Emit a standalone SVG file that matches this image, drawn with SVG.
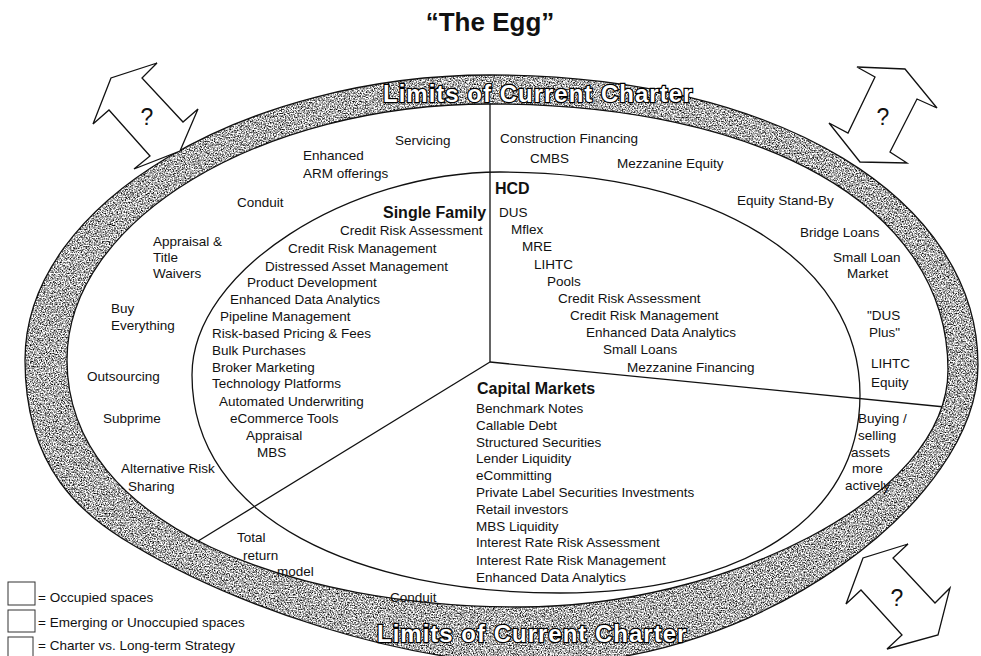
<svg xmlns="http://www.w3.org/2000/svg" width="981" height="656" viewBox="0 0 981 656">
<style>
.t{font-family:"Liberation Sans",Arial,Helvetica,sans-serif;font-size:13.5px;fill:#111}
.b{font-weight:bold;font-size:16px}
.ti{font-family:"Liberation Sans",Arial,Helvetica,sans-serif;font-weight:bold;font-size:26px;fill:#111}
.q{font-family:"Liberation Sans",Arial,Helvetica,sans-serif;font-size:23px;fill:#111}
.lim{font-family:"Liberation Sans",Arial,Helvetica,sans-serif;font-weight:bold;font-size:24px;fill:#fff;stroke:#000;stroke-width:2.4;paint-order:stroke fill;letter-spacing:1px}
.ln{fill:none;stroke:#111;stroke-width:1.3}
.arw{fill:#fff;stroke:#111;stroke-width:1.3;stroke-linejoin:miter}
.box{fill:#fff;stroke:#333;stroke-width:1}
</style>
<defs>
<filter id="speck" x="0" y="0" width="100%" height="100%" color-interpolation-filters="sRGB">
<feTurbulence type="fractalNoise" baseFrequency="0.75" numOctaves="3" seed="7" result="n"/>
<feColorMatrix in="n" type="matrix" values="2.3 0 0 0 -0.47  2.3 0 0 0 -0.47  2.3 0 0 0 -0.47  0 0 0 0 1"/>
</filter>
<clipPath id="ringClip">
<path clip-rule="evenodd" d="M 490,75 C 780,75 978,200 978,365 C 978,500 760,664 540,664 C 400,664 233,605 133,545 C 83,515 25,470 25,360 C 25,200 250,75 490,75 Z M 490,104 C 760,104 948,205 948,370 C 948,500 720,607 520,607 C 300,607 67,530 67,360 C 67,220 260,104 490,104 Z"/>
</clipPath>
</defs>
<rect width="981" height="656" fill="#fff"/>

<text id="title" class="ti" x="490" y="31" text-anchor="middle">“The Egg”</text>

<g id="connectors">
<line class="ln" x1="490" y1="362" x2="490" y2="100"/>
<line class="ln" x1="490" y1="362" x2="955" y2="408"/>
<line class="ln" x1="490" y1="362" x2="190" y2="546"/>
</g>

<g id="yolk">
<path class="ln" d="M 500,172 C 715,172 860,262 860,395 C 860,520 740,593 560,593 C 360,593 192,520 192,375 C 192,270 350,172 500,172 Z"/>
</g>

<g id="ring">
<rect x="0" y="60" width="981" height="596" filter="url(#speck)" clip-path="url(#ringClip)"/>
<path class="ln" d="M 490,75 C 780,75 978,200 978,365 C 978,500 760,664 540,664 C 400,664 233,605 133,545 C 83,515 25,470 25,360 C 25,200 250,75 490,75 Z"/>
<path class="ln" d="M 490,104 C 760,104 948,205 948,370 C 948,500 720,607 520,607 C 300,607 67,530 67,360 C 67,220 260,104 490,104 Z"/>
<text class="lim" x="383" y="102">Limits of Current Charter</text>
<text class="lim" x="377" y="642">Limits of Current Charter</text>
</g>

<g id="arrow-tl">
<polygon class="arw" points="157,63 111,78 93,124 109,110 150,156 134,169 180,151 198,109 183,122 142,78"/>
<text class="q" x="147" y="125" text-anchor="middle">?</text>
</g>
<g id="arrow-tr">
<polygon class="arw" points="857,67 905,69 937,108 917,99 890,152 907,163 860,162 829,123 848,133 875,77"/>
<text class="q" x="883" y="125" text-anchor="middle">?</text>
</g>
<g id="arrow-br">
<polygon class="arw" points="908,544 893,558 935,603 950,588 938,635 887,649 902,635 861,590 846,604 863,558"/>
<text class="q" x="897" y="606" text-anchor="middle">?</text>
</g>

<g id="outer-single-family">
<text class="t" x="395" y="145">Servicing</text>
<text class="t" x="303" y="160">Enhanced</text>
<text class="t" x="303" y="178">ARM offerings</text>
<text class="t" x="237" y="207">Conduit</text>
<text class="t" x="153" y="246">Appraisal &amp;</text>
<text class="t" x="153" y="262">Title</text>
<text class="t" x="153" y="278">Waivers</text>
<text class="t" x="111" y="313">Buy</text>
<text class="t" x="111" y="330">Everything</text>
<text class="t" x="87" y="381">Outsourcing</text>
<text class="t" x="103" y="423">Subprime</text>
<text class="t" x="121" y="473">Alternative Risk</text>
<text class="t" x="128" y="491">Sharing</text>
</g>

<g id="outer-capital-markets">
<text class="t" x="237" y="542">Total</text>
<text class="t" x="243" y="560">return</text>
<text class="t" x="277" y="576">model</text>
<text class="t" x="390" y="602">Conduit</text>
</g>

<g id="outer-hcd">
<text class="t" x="500" y="143">Construction Financing</text>
<text class="t" x="530" y="163">CMBS</text>
<text class="t" x="617" y="168">Mezzanine Equity</text>
<text class="t" x="737" y="205">Equity Stand-By</text>
<text class="t" x="800" y="237">Bridge Loans</text>
<text class="t" x="833" y="262">Small Loan</text>
<text class="t" x="847" y="278">Market</text>
<text class="t" x="867" y="320">"DUS</text>
<text class="t" x="869" y="337">Plus"</text>
<text class="t" x="871" y="368">LIHTC</text>
<text class="t" x="871" y="387">Equity</text>
<text class="t" x="858" y="423">Buying /</text>
<text class="t" x="858" y="440">selling</text>
<text class="t" x="851" y="457">assets</text>
<text class="t" x="852" y="473">more</text>
<text class="t" x="845" y="490">actively</text>
</g>

<g id="single-family">
<text class="t b" x="383" y="218">Single Family</text>
<text class="t" x="340" y="235">Credit Risk Assessment</text>
<text class="t" x="288" y="253">Credit Risk Management</text>
<text class="t" x="265" y="271">Distressed Asset Management</text>
<text class="t" x="247" y="287">Product Development</text>
<text class="t" x="230" y="304">Enhanced Data Analytics</text>
<text class="t" x="220" y="321">Pipeline Management</text>
<text class="t" x="212" y="338">Risk-based Pricing &amp; Fees</text>
<text class="t" x="212" y="355">Bulk Purchases</text>
<text class="t" x="212" y="372">Broker Marketing</text>
<text class="t" x="212" y="388">Technology Platforms</text>
<text class="t" x="219" y="406">Automated Underwriting</text>
<text class="t" x="230" y="423">eCommerce Tools</text>
<text class="t" x="246" y="440">Appraisal</text>
<text class="t" x="257" y="457">MBS</text>
</g>

<g id="hcd">
<text class="t b" x="495" y="194">HCD</text>
<text class="t" x="499" y="217">DUS</text>
<text class="t" x="511" y="234">Mflex</text>
<text class="t" x="522" y="251">MRE</text>
<text class="t" x="534" y="269">LIHTC</text>
<text class="t" x="547" y="286">Pools</text>
<text class="t" x="558" y="303">Credit Risk Assessment</text>
<text class="t" x="570" y="320">Credit Risk Management</text>
<text class="t" x="586" y="337">Enhanced Data Analytics</text>
<text class="t" x="603" y="354">Small Loans</text>
<text class="t" x="627" y="372">Mezzanine Financing</text>
</g>

<g id="capital-markets">
<text class="t b" x="477" y="394">Capital Markets</text>
<text class="t" x="476" y="413">Benchmark Notes</text>
<text class="t" x="476" y="430">Callable Debt</text>
<text class="t" x="476" y="447">Structured Securities</text>
<text class="t" x="476" y="463">Lender Liquidity</text>
<text class="t" x="476" y="480">eCommitting</text>
<text class="t" x="476" y="497">Private Label Securities Investments</text>
<text class="t" x="476" y="514">Retail investors</text>
<text class="t" x="476" y="531">MBS Liquidity</text>
<text class="t" x="476" y="547">Interest Rate Risk Assessment</text>
<text class="t" x="476" y="565">Interest Rate Risk Management</text>
<text class="t" x="476" y="582">Enhanced Data Analytics</text>
</g>

<g id="legend">
<rect class="box" x="8" y="582" width="27" height="23"/>
<text class="t" x="38" y="602">= Occupied spaces</text>
<rect class="box" x="8" y="610" width="27" height="22"/>
<text class="t" x="38" y="627">= Emerging or Unoccupied spaces</text>
<rect class="box" x="8" y="637" width="25" height="22"/>
<text class="t" x="38" y="650">= Charter vs. Long-term Strategy</text>
</g>
</svg>
